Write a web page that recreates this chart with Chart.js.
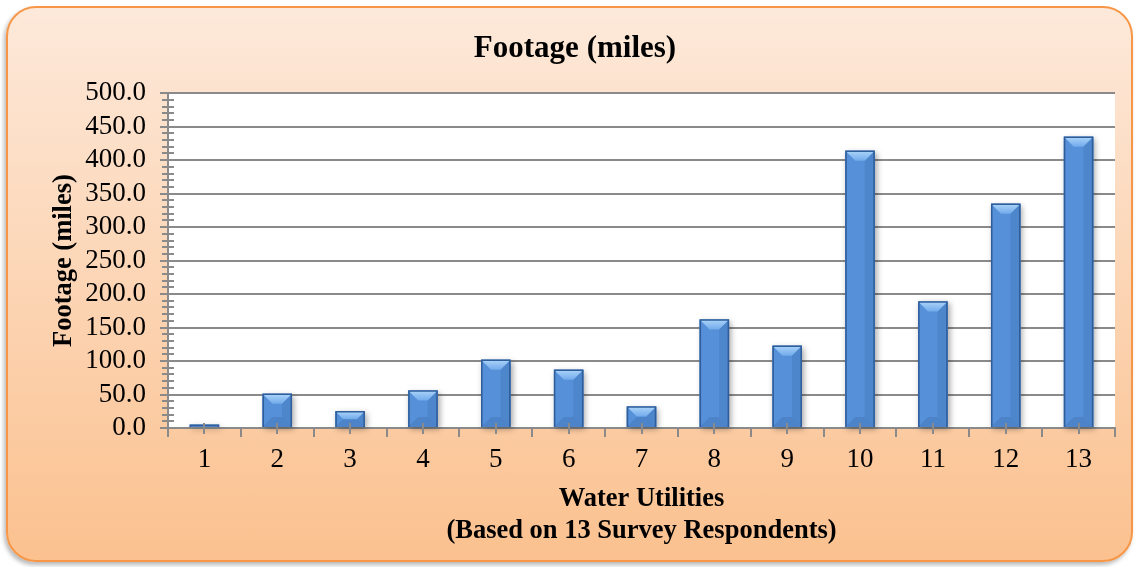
<!DOCTYPE html>
<html>
<head>
<meta charset="utf-8">
<title>Footage (miles)</title>
<script src="https://cdn.jsdelivr.net/npm/chart.js@4.4.1/dist/chart.umd.min.js"></script>
<style>
  html, body { margin: 0; padding: 0; background: #ffffff; }
  #frame {
    position: absolute; left: 6px; top: 6px; width: 1127px; height: 556px;
    border: 2px solid #f79646; border-radius: 30px; box-sizing: border-box;
    background: linear-gradient(#fde9da, #fbc18f);
    box-shadow: -2px 3px 4px rgba(0, 0, 0, 0.28);
  }
  #wrap { position: absolute; left: 0; top: 0; width: 1138px; height: 567px; }
</style>
</head>
<body>
<div id="frame"></div>
<div id="wrap"><canvas id="chart"></canvas></div>
<script>
// Footage of pipe reported by each water utility, in miles
const utilities = ['1', '2', '3', '4', '5', '6', '7', '8', '9', '10', '11', '12', '13'];
const footageMiles = [5, 51, 25, 56, 102, 87, 32, 162, 123, 414, 189, 335, 435];
const yTicks = [0, 50, 100, 150, 200, 250, 300, 350, 400, 450, 500];

const chartTitle = 'Footage (miles)';
const yAxisTitle = 'Footage (miles)';
const xAxisTitle = ['Water Utilities', '(Based on 13 Survey Respondents)'];

const SERIF = "'Liberation Serif', 'Times New Roman', serif";
const AXIS_GREY = '#8a8a8a';

// White plot area behind the grid
const plotBackground = {
  id: 'plotBackground',
  beforeDraw(chart) {
    const { ctx, chartArea: a } = chart;
    ctx.save();
    ctx.fillStyle = '#ffffff';
    ctx.fillRect(a.left, a.top, a.right - a.left, a.bottom - a.top);
    ctx.restore();
  }
};

// Soft drop shadow under each column
const barShadow = {
  id: 'barShadow',
  beforeDatasetsDraw(chart) {
    const { ctx } = chart;
    const meta = chart.getDatasetMeta(0);
    ctx.save();
    ctx.shadowColor = 'rgba(0,0,0,0.35)';
    ctx.shadowBlur = 6;
    ctx.shadowOffsetX = 2;
    ctx.shadowOffsetY = 2;
    ctx.fillStyle = '#4a7fc0';
    meta.data.forEach(bar => {
      const p = bar.getProps(['x', 'y', 'base', 'width'], true);
      ctx.fillRect(p.x - p.width / 2, p.y, p.width, p.base - p.y);
    });
    ctx.restore();
  }
};

// Angled bevel on every column: bright top face, shaded sides and foot
const barBevel = {
  id: 'barBevel',
  afterDatasetsDraw(chart) {
    const { ctx } = chart;
    const meta = chart.getDatasetMeta(0);
    ctx.save();
    meta.data.forEach(bar => {
      const p = bar.getProps(['x', 'y', 'base', 'width'], true);
      const L = p.x - p.width / 2, R = p.x + p.width / 2, T = p.y, B = p.base;
      const h = B - T;
      const b = Math.min(10, h / 2, p.width / 2);
      if (h <= 0) return;

      // top face
      const g = ctx.createLinearGradient(0, T, 0, T + b);
      g.addColorStop(0, '#acd4f9');
      g.addColorStop(1, '#72abeb');
      ctx.fillStyle = g;
      ctx.beginPath();
      ctx.moveTo(L, T); ctx.lineTo(R, T); ctx.lineTo(R - b, T + b); ctx.lineTo(L + b, T + b);
      ctx.closePath(); ctx.fill();

      // foot face
      ctx.fillStyle = 'rgba(25,55,105,0.14)';
      ctx.beginPath();
      ctx.moveTo(L, B); ctx.lineTo(R, B); ctx.lineTo(R - b, B - b); ctx.lineTo(L + b, B - b);
      ctx.closePath(); ctx.fill();

      // right face, a touch darker
      ctx.fillStyle = 'rgba(20,50,100,0.10)';
      ctx.beginPath();
      ctx.moveTo(R, T); ctx.lineTo(R, B); ctx.lineTo(R - b, B - b); ctx.lineTo(R - b, T + b);
      ctx.closePath(); ctx.fill();

      // dark outline edges
      ctx.strokeStyle = '#2f5d9a';
      ctx.lineWidth = 1.5;
      ctx.beginPath();
      ctx.moveTo(L + 0.75, B); ctx.lineTo(L + 0.75, T + 0.5);
      ctx.lineTo(R - 0.75, T + 0.5); ctx.lineTo(R - 0.75, B);
      ctx.stroke();
    });
    ctx.restore();
  }
};

// Minor tick marks crossing both axes
const minorTicks = {
  id: 'minorTicks',
  afterDatasetsDraw(chart) {
    const { ctx, scales: { x, y } } = chart;
    ctx.save();
    ctx.strokeStyle = AXIS_GREY;
    ctx.lineWidth = 2;
    ctx.beginPath();
    for (let v = 0; v <= 500; v += 10) {
      if (v % 50 === 0) continue;
      const py = Math.round(y.getPixelForValue(v));
      ctx.moveTo(y.right - 6, py); ctx.lineTo(y.right + 6, py);
    }
    utilities.forEach((_, i) => {
      const px = Math.round(x.getPixelForValue(i));
      ctx.moveTo(px, x.top - 5); ctx.lineTo(px, x.top + 6);
    });
    ctx.stroke();
    ctx.restore();
  }
};

new Chart(document.getElementById('chart'), {
  type: 'bar',
  data: {
    labels: utilities,
    datasets: [{
      label: chartTitle,
      data: footageMiles,
      backgroundColor: '#5590d8',
      borderWidth: 0,
      barPercentage: 0.405,
      categoryPercentage: 1.0
    }]
  },
  options: {
    responsive: true,
    maintainAspectRatio: false,
    animation: false,
    layout: { padding: { left: 35, right: 23, top: 0, bottom: 0 } },
    plugins: {
      legend: { display: false },
      tooltip: { enabled: false },
      title: {
        display: true,
        text: chartTitle,
        color: '#000000',
        font: { family: SERIF, size: 31, weight: 'bold', lineHeight: 1.2 },
        padding: { top: 30, bottom: 26 }
      }
    },
    scales: {
      x: {
        offset: true,
        grid: {
          display: true, offset: true, drawOnChartArea: false, drawTicks: true,
          tickLength: 9, color: AXIS_GREY, lineWidth: 2
        },
        border: { display: true, color: AXIS_GREY, width: 2 },
        ticks: { color: '#000000', font: { family: SERIF, size: 27 }, padding: 7, autoSkip: false, maxRotation: 0 },
        title: {
          display: true,
          text: xAxisTitle,
          color: '#000000',
          font: { family: SERIF, size: 26.5, weight: 'bold', lineHeight: '32px' },
          padding: { top: 0, bottom: 20 }
        },
        afterFit(scale) { scale.height = 139; }
      },
      y: {
        min: 0,
        max: 500,
        afterBuildTicks(scale) { scale.ticks = yTicks.map(v => ({ value: v })); },
        grid: { color: AXIS_GREY, lineWidth: 2, drawTicks: true, tickLength: 8 },
        border: { display: true, color: AXIS_GREY, width: 2 },
        ticks: {
          color: '#000000',
          font: { family: SERIF, size: 27, lineHeight: 1 },
          padding: 14,
          autoSkip: false,
          callback: v => Number(v).toFixed(1)
        },
        title: {
          display: true,
          text: yAxisTitle,
          color: '#000000',
          font: { family: SERIF, size: 26.5, weight: 'bold', lineHeight: 1.2 },
          padding: { top: 13, bottom: 0 }
        },
        afterFit(scale) { scale.width = 133; }
      }
    }
  },
  plugins: [plotBackground, barShadow, barBevel, minorTicks]
});
</script>
</body>
</html>
